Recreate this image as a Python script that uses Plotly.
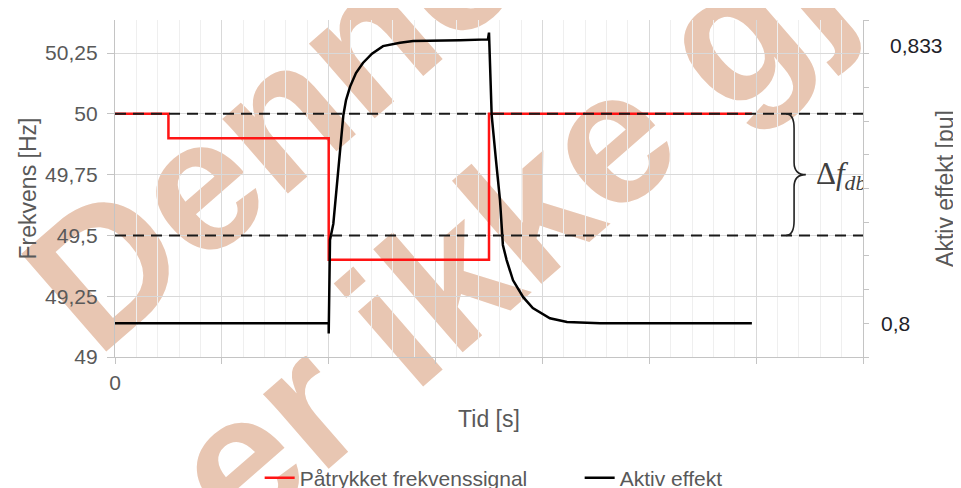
import plotly.graph_objects as go

# ---------------- data ----------------
time_red = [0, 0.5, 0.5, 2.0, 2.0, 3.5, 3.5, 5.96]
freq_red = [50, 50, 49.9, 49.9, 49.4, 49.4, 50, 50]

time_black = [0, 2.0, 2.0, 2.012, 2.043, 2.077, 2.105, 2.137, 2.162, 2.2, 2.255,
              2.32, 2.405, 2.508, 2.667, 2.79, 3.23, 3.49, 3.5, 3.525, 3.565,
              3.603, 3.63, 3.665, 3.725, 3.82, 3.91, 4.07, 4.23, 4.54, 5.96]
power_black = [0.8, 0.8, 0.7988, 0.8099, 0.8118, 0.8164, 0.8200, 0.8247, 0.8265,
               0.8281, 0.8297, 0.8309, 0.8320, 0.8329, 0.8333, 0.8335, 0.8336,
               0.8337, 0.8345, 0.8247, 0.8194, 0.8146, 0.8093, 0.8075, 0.8051,
               0.8031, 0.8018, 0.8006, 0.80015, 0.8, 0.8]

deadband_limits = [50.0, 49.5]
x_ticks = [0, 1, 2, 3, 4, 5, 6, 7]
x_ticktext = ["0", "", "", "", "", "", "", ""]
y_ticks = [49, 49.25, 49.5, 49.75, 50, 50.25]
y_ticktext = ["49", "49,25", "49,5", "49,75", "50", "50,25"]
power_label_values = [0.8, 0.833]
power_label_text = ["0,8", "0,833"]
legend_names = ["Påtrykket frekvenssignal", "Aktiv effekt"]
deadband_label = "Δ<i>f</i><sub><i>db</i></sub>"
watermark_lines = ["<b>Denne versjonen</b>", "<b>er ikke gjeldende</b>"]

GREY = "#595959"
GRID = "#d9d9d9"
AXIS = "#c4c4c4"
FONT = "Liberation Sans"

fig = go.Figure()

fig.add_trace(go.Scatter(x=time_red, y=freq_red, mode="lines", name=legend_names[0],
                         line=dict(color="#ff1414", width=2.5), yaxis="y"))
fig.add_trace(go.Scatter(x=time_black, y=power_black, mode="lines", name=legend_names[1],
                         line=dict(color="#000000", width=2.5), yaxis="y2"))
fig.add_trace(go.Scatter(x=[6.56], y=[49.745], mode="text", text=[deadband_label],
                         textposition="middle right", cliponaxis=True, showlegend=False,
                         textfont=dict(family="Liberation Serif", size=31, color="#404040"),
                         hoverinfo="skip", yaxis="y"))

shapes = []
# watermark (behind everything)
wm_centers = [(0.667, 1.6525), (0.8636, 1.1104)]
for txt, (cx, cy) in zip(watermark_lines, wm_centers):
    shapes.append(dict(type="rect", xref="paper", yref="paper",
                       x0=cx - 0.005, x1=cx + 0.005, y0=cy - 0.005, y1=cy + 0.005,
                       line=dict(width=0), fillcolor="rgba(0,0,0,0)", layer="below",
                       label=dict(text=txt, textangle=-41, textposition="middle center",
                                  font=dict(family=FONT, size=188, color="#E8C6B2"))))
# dashed deadband limits
for yv in deadband_limits:
    shapes.append(dict(type="line", xref="x", yref="y", x0=x_ticks[0], x1=x_ticks[-1],
                       y0=yv, y1=yv, layer="above",
                       line=dict(color="#1a1a1a", width=2, dash="11px,7px")))
# brace
yt, yb = deadband_limits
ym = (yt + yb) / 2
bx0, bx1, bx2 = 6.28, 6.355, 6.465
brace = (f"M {bx0},{yt} Q {bx1},{yt} {bx1},{yt-0.06} L {bx1},{ym+0.05} "
         f"Q {bx1},{ym} {bx2},{ym} Q {bx1},{ym} {bx1},{ym-0.05} "
         f"L {bx1},{yb+0.06} Q {bx1},{yb} {bx0},{yb}")
shapes.append(dict(type="path", xref="x", yref="y", path=brace, layer="above",
                   line=dict(color="#222222", width=1.6)))

annotations = []
for v, t, xp in zip(power_label_values, power_label_text, [1.043, 1.072]):
    annotations.append(dict(x=xp, y=v, xref="paper", yref="y2", text=t, showarrow=False,
                            xanchor="center", yanchor="middle",
                            font=dict(family=FONT, size=21, color="#1f1f2a")))

fig.update_layout(
    width=953, height=480,
    margin=dict(l=107, r=98, t=12, b=131, autoexpand=False),
    paper_bgcolor="white", plot_bgcolor="rgba(0,0,0,0)",
    font=dict(family=FONT, color=GREY, size=21),
    shapes=shapes, annotations=annotations,
    showlegend=True,
    legend=dict(orientation="h", x=0.1934, xanchor="left", y=-0.359, yanchor="middle",
                entrywidth=275, entrywidthmode="pixels",
                font=dict(family=FONT, size=21, color=GREY), bgcolor="rgba(0,0,0,0)"),
    xaxis=dict(range=[x_ticks[0], x_ticks[-1]], tickvals=x_ticks, ticktext=x_ticktext,
               showgrid=True, gridcolor=GRID, gridwidth=1,
               minor=dict(dtick=0.2, showgrid=True, gridcolor="#efefef", gridwidth=1, ticks=""),
               showline=True, linecolor=AXIS, linewidth=1.3, ticks="outside", ticklen=6,
               tickcolor=AXIS, zeroline=False, ticklabelstandoff=1,
               tickfont=dict(size=21, color=GREY, family=FONT),
               title=dict(text="Tid [s]", standoff=17, font=dict(size=23, color=GREY, family=FONT)),
               automargin=False),
    yaxis=dict(range=[49, 50.386], tickvals=y_ticks, ticktext=y_ticktext,
               showgrid=True, gridcolor=GRID, gridwidth=1,
               showline=True, linecolor=AXIS, linewidth=1.3, ticks="outside", ticklen=7,
               tickcolor=AXIS, zeroline=False, ticklabelstandoff=5,
               tickfont=dict(size=21, color=GREY, family=FONT),
               title=dict(text="Frekvens [Hz]", standoff=2, font=dict(size=23, color=GREY, family=FONT)),
               automargin=False),
    yaxis2=dict(overlaying="y", side="right", range=[0.796, 0.836], tick0=0.796, dtick=0.004,
                showgrid=False, showline=True, linecolor=AXIS, linewidth=1.3,
                ticks="outside", ticklen=5, tickcolor=AXIS, showticklabels=False,
                zeroline=False,
                title=dict(text="Aktiv effekt [pu]", standoff=68, font=dict(size=23, color=GREY, family=FONT)),
                automargin=False),
)

fig.write_html("out.html")
